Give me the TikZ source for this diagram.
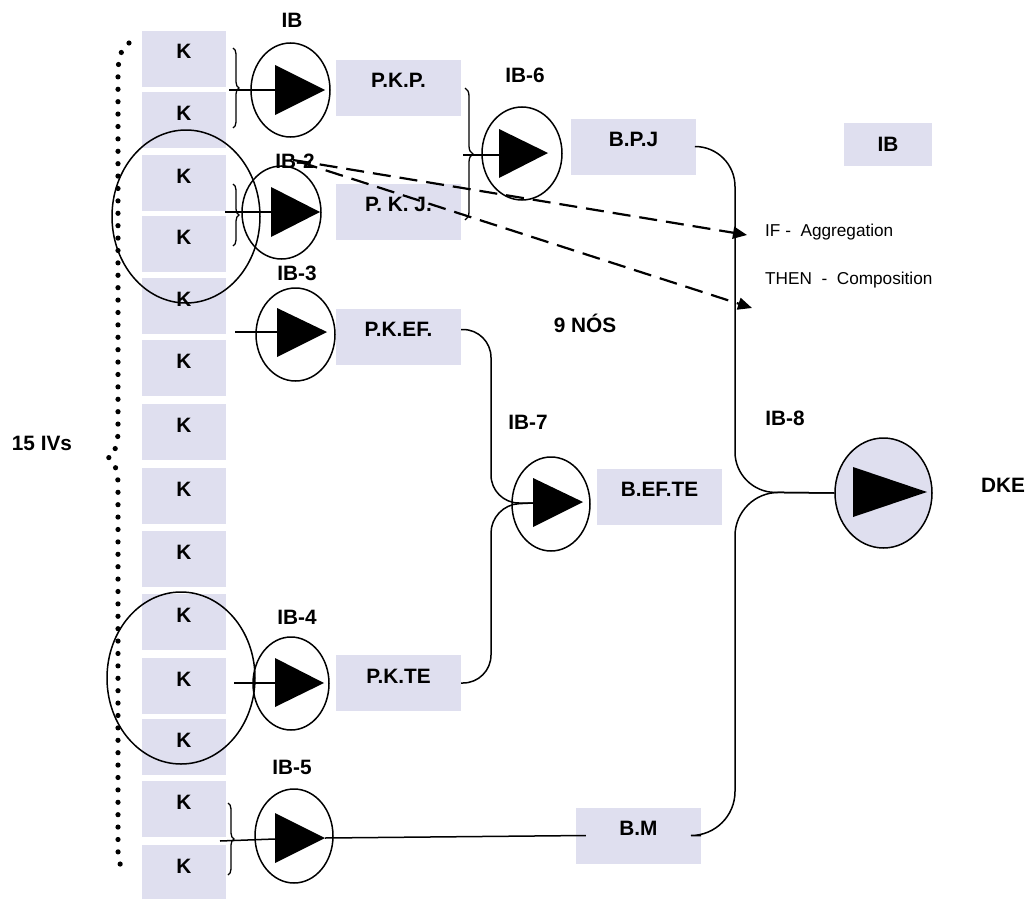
\documentclass[tikz,border=0pt]{standalone}
\usepackage{fontspec}
\setmainfont{Liberation Sans}
\usetikzlibrary{shapes.geometric,arrows.meta,decorations.pathreplacing}
\definecolor{lav}{RGB}{223,223,239}
\begin{document}
\begin{tikzpicture}[x=1pt,y=-1pt,
  box/.style={fill=lav, minimum width=125pt, minimum height=56pt, inner sep=0pt,
    font=\bfseries\fontsize{20.8}{24}\selectfont, text height=14.9pt, text depth=14.9pt},
  kbox/.style={box, minimum width=84pt},
  lbl/.style={font=\bfseries\fontsize{20.8}{24}\selectfont, inner sep=0pt, text height=14.9pt, text depth=0pt},
  reg/.style={font=\fontsize{17.2}{20}\selectfont, inner sep=0pt, text height=12.3pt, text depth=0pt},
  ring/.style={ellipse, draw, line width=1.5pt, inner sep=0pt},
  conn/.style={line width=1.5pt},
  dsh/.style={line width=2.2pt, dash pattern=on 18pt off 9pt, -{Triangle[length=14pt,width=12pt]}},
  brc/.style={decorate, decoration={brace, amplitude=6pt}, line width=1.3pt},
]
\useasboundingbox (0,0) rectangle (1028,899);

% K column
\foreach \t [count=\i] in {31,92,155,216,278,340,404,468,531,594,658,719,781,845}
  \node[kbox] (k\i) at (184,\t+28) {K};

% other boxes
\node[box] (pkp) at (398.5,88) {P.K.P.};
\node[box] (pkj) at (398.5,211.5) {P. K. J.};
\node[box] (pkef) at (398.5,336.5) {P.K.EF.};
\node[box] (pkte) at (398.5,683) {P.K.TE};
\node[box] (bpj) at (633.5,146.5) {B.P.J};
\node[box] (beft) at (659.5,496.5) {B.EF.TE};
\node[box] (bm) at (638.5,835.5) {B.M};
\node[box, minimum width=88pt, minimum height=43pt, text depth=0pt] (iblg) at (888,144.5) {IB};

% group ellipses
\node[ring, minimum width=148pt, minimum height=173pt] (g1) at (186,216.5) {};
\node[ring, minimum width=148pt, minimum height=172pt] (g2) at (181,678) {};

% IB units
\node[ring, minimum width=79pt, minimum height=94pt] (ib1) at (290.5,90) {};
\fill (275,65) -- (275,115) -- (325,90) -- cycle;
\coordinate (ib1in) at (275,90);

\node[ring, minimum width=79pt, minimum height=93pt] (ib2) at (281.5,212.5) {};
\fill (271,187) -- (271,237) -- (320,212) -- cycle;
\coordinate (ib2in) at (271,212);

\node[ring, minimum width=79pt, minimum height=93pt] (ib3) at (295.5,334.5) {};
\fill (277,308) -- (277,357) -- (327,332) -- cycle;
\coordinate (ib3in) at (277,332);

\node[ring, minimum width=76pt, minimum height=93pt] (ib4) at (291,683.5) {};
\fill (275,658) -- (275,707) -- (324,683) -- cycle;
\coordinate (ib4in) at (275,683);

\node[ring, minimum width=78pt, minimum height=94pt] (ib5) at (294,836) {};
\fill (275,813) -- (275,863) -- (325,838) -- cycle;
\coordinate (ib5in) at (275,839);
\coordinate (ib5out) at (325,838);

\node[ring, minimum width=80pt, minimum height=93pt] (ib6) at (522,153.5) {};
\fill (499,129) -- (499,178) -- (548,153) -- cycle;
\coordinate (ib6in) at (499,155);

\node[ring, minimum width=78pt, minimum height=94pt] (ib7) at (551,504) {};
\fill (533,478) -- (533,527) -- (583,502) -- cycle;
\coordinate (ib7in) at (533,503);

\node[ring, fill=lav, minimum width=97pt, minimum height=110pt] (ib8) at (883.5,493) {};
\fill (853,467) -- (853,517) -- (927,492) -- cycle;

% braces
\draw[brc] (233,48) -- (233,128);
\draw[brc] (233,184) -- (233,246);
\draw[brc, decoration={amplitude=8pt}] (465,88) -- (465,220);
\draw[brc] (228,803) -- (228,875);

% inputs
\coordinate (b1) at (229,90);
\coordinate (b2) at (225,212);
\coordinate (b3) at (235,332);
\coordinate (b4) at (234,683);
\coordinate (b5) at (220,841);
\coordinate (b6) at (463,155);
\draw[conn] (b1) -- (ib1in);
\draw[conn] (b2) -- (ib2in);
\draw[conn] (b3) -- (ib3in);
\draw[conn] (b4) -- (ib4in);
\draw[conn] (b5) -- (ib5in);
\draw[conn] (b6) -- (ib6in);

% connectors
\draw[conn, rounded corners=28pt] ([yshift=7pt]pkef.east) -| (491,503) -- (ib7in);
\draw[conn, rounded corners=28pt] (pkte.east) -| (491,505) -- (ib7in);
\draw[conn, rounded corners=40pt] (bpj.east) -| (735,492) -- (ib8.west);
\draw[conn, rounded corners=44pt] (bm.east) -| (735,492) -- (ib8.west);
\draw[conn] (ib5out) -- ([xshift=10pt]bm.west);

% dotted brace
\draw[line width=5.2pt, line cap=round, dash pattern=on 0pt off 12.4pt]
  (129,43) .. controls (121,48) and (118,58) .. (118,75) -- (118,430)
  .. controls (118,448) and (113,455) .. (108,457)
  .. controls (113,460) and (118,468) .. (118,485) -- (118,850)
  .. controls (118,862) and (121,868) .. (126,872);

% labels
\node[lbl] (lib1) at (292,20) {IB};
\node[lbl] (lib2) at (295,161) {IB-2};
\node[lbl] (lib3) at (297,273) {IB-3};
\node[lbl] (lib4) at (297,617) {IB-4};
\node[lbl] (lib5) at (292,767) {IB-5};
\node[lbl] (lib6) at (525,75) {IB-6};
\node[lbl] (lib7) at (528,422) {IB-7};
\node[lbl] (lib8) at (785,418) {IB-8};
\node[lbl] (ldke) at (1003,485) {DKE};
\node[lbl] (lnos) at (585,325) {9 NÓS};
\node[lbl] (liv) at (42,443) {15 IVs};
\node[reg, anchor=west] (lif) at (765,230) {IF - \ Aggregation};
\node[reg, anchor=west] (lthen) at (765,278) {THEN \ - \ Composition};

% dashed arrows
\coordinate (d1s) at (293,160);
\coordinate (d1e) at (747,235);
\coordinate (d2s) at (300,162);
\coordinate (d2e) at (752,308);
\draw[dsh] (d1s) -- (d1e);
\draw[dsh] (d2s) -- (d2e);
\end{tikzpicture}
\end{document}
